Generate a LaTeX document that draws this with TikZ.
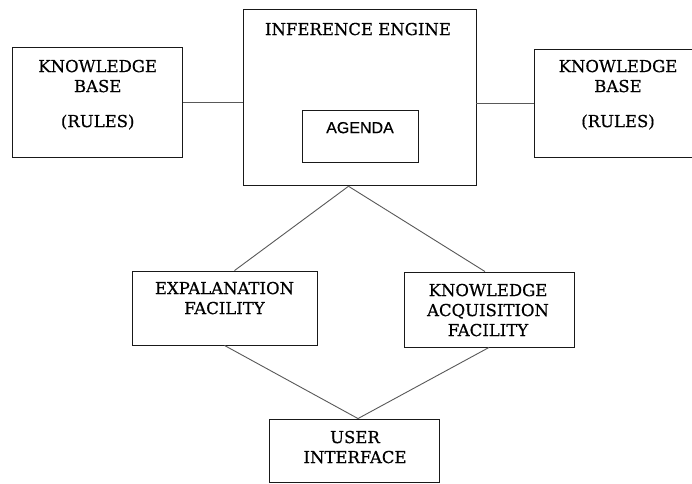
\documentclass[tikz,border=0pt]{standalone}
\usepackage{fontspec}
\setmainfont{DejaVu Serif}
\newfontfamily\blockfont{DejaVu Serif}[FakeBold=0.5]
\newfontfamily\agendafont{Liberation Sans}[FakeBold=0.5]
\usetikzlibrary{calc,positioning}
\tikzset{
    block/.style = {draw=black!90, line width=0.9pt, inner sep=0pt},
    blocktext/.style = {anchor=north, inner sep=0pt, align=center, text=black,
        font=\blockfont\fontsize{16.5}{20}\selectfont},
    link/.style = {draw=black!65, line width=0.9pt}
}

\begin{document}
\begin{tikzpicture}[x=1pt,y=-1pt]
    \path[use as bounding box, fill=white] (0,0) rectangle (692,483);

    \node[block, minimum width=170pt, minimum height=110pt] (kbl) at (97.7,102) {};
    \node[block, minimum width=233pt, minimum height=176pt] (ie) at (359.5,97.8) {};
    \node[block, minimum width=116pt, minimum height=52pt] (agenda) at (360,136) {};
    \node[block, minimum width=159pt, minimum height=108pt] (kbr) at (613.5,103) {};
    \node[block, minimum width=185pt, minimum height=74pt] (ef) at (224.5,308) {};
    \node[block, minimum width=170pt, minimum height=75pt] (ka) at (489,309.5) {};
    \node[block, minimum width=170pt, minimum height=63pt] (ui) at (354,450.5) {};

    \node[blocktext] (kbl-text) at (97.7,59.6) {KNOWLEDGE\\BASE\\[15pt](RULES)};
    \node[blocktext] (ie-text) at (358,22.6) {INFERENCE ENGINE};
    \node[blocktext, font=\agendafont\fontsize{16}{18}\selectfont] (agenda-text) at (360,121.8) {AGENDA};
    \node[blocktext] (kbr-text) at (618,59.6) {KNOWLEDGE\\BASE\\[15pt](RULES)};
    \node[blocktext] (ef-text) at (224.5,281.6) {EXPALANATION\\FACILITY};
    \node[blocktext] (ka-text) at (488,283.6) {KNOWLEDGE\\ACQUISITION\\FACILITY};
    \node[blocktext] (ui-text) at (355,430.6) {USER\\INTERFACE};

    \draw[link] (kbl.east) -- (kbl.east -| ie.west);
    \draw[link] (kbr.west) -- (kbr.west -| ie.east);

    \coordinate (apex) at ([xshift=-11pt]ie.south);
    \coordinate (ef-top) at ([xshift=10pt]ef.north);
    \coordinate (ka-top) at ([xshift=-4pt]ka.north);
    \coordinate (base) at ([xshift=4pt]ui.north);
    \foreach \a/\b in {apex/ef-top, apex/ka-top, ef.south/base, ka.south/base}
        \draw[link] (\a) -- (\b);
\end{tikzpicture}
\end{document}
